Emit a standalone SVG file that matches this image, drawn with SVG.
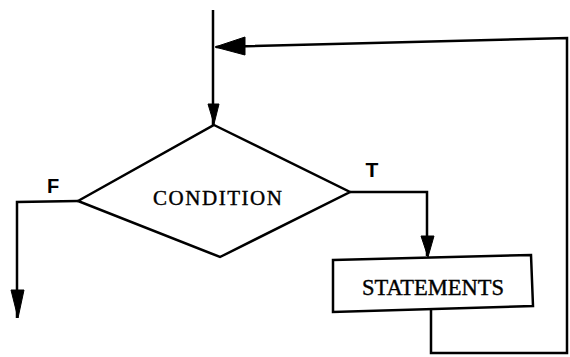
<svg xmlns="http://www.w3.org/2000/svg" width="570" height="357" viewBox="0 0 570 357">
<style>
.ln{fill:none;stroke:#000;stroke-width:2.5;stroke-linejoin:miter}
.hd{fill:#000;stroke:#000;stroke-width:1}
.lbl{font-family:"Liberation Serif",serif;fill:#000;stroke:#000;stroke-width:0.4}
.tf{font-family:"Liberation Sans",sans-serif;font-weight:bold;fill:#000}
</style>
<rect width="570" height="357" fill="#fff"/>
<g id="connectors">
<path class="ln" d="M213,10 L213,125"/>
<polygon class="hd" points="208,104 219,104 214,124"/>
<path class="ln" d="M216,47 L567,38 L567,353 L431,353 L431,309"/>
<polygon class="hd" points="215,47 245,37 245,55"/>
<path class="ln" d="M78,201 L17,202 L17,318"/>
<polygon class="hd" points="11,290 24,290 18,318"/>
<path class="ln" d="M350,192 L427,192 L427,256"/>
<polygon class="hd" points="421,236 434,236 428,257"/>
</g>
<g id="condition">
<polygon class="ln" points="214,125 350,192 220,257 78,201"/>
<text class="lbl" x="153" y="205" font-size="21" textLength="129" lengthAdjust="spacing">CONDITION</text>
</g>
<g id="statements">
<polygon class="ln" points="333,260 531,255 533,306 333,312"/>
<text class="lbl" x="362" y="295" font-size="23" textLength="142" lengthAdjust="spacingAndGlyphs">STATEMENTS</text>
</g>
<g id="labels">
<text class="tf" x="53" y="193" font-size="20" text-anchor="middle">F</text>
<text class="tf" x="372" y="177" font-size="21" text-anchor="middle">T</text>
</g>
</svg>
